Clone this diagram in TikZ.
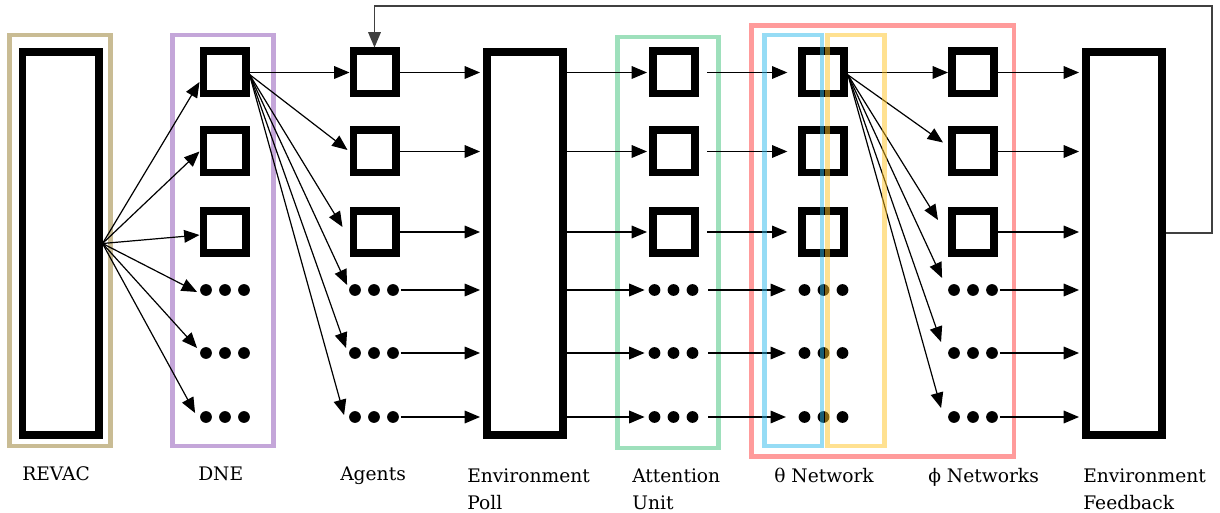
\documentclass[tikz,border=0pt]{standalone}
\usepackage{fontspec}
\setmainfont{DejaVu Serif}
\usetikzlibrary{arrows.meta,calc}
\definecolor{tanc}{RGB}{201,188,148}
\definecolor{purplec}{RGB}{196,166,217}
\definecolor{greenc}{RGB}{158,224,188}
\definecolor{redc}{RGB}{255,155,155}
\definecolor{bluec}{RGB}{45,185,235}
\definecolor{yellowc}{RGB}{255,195,35}
\tikzset{
  sq/.style={draw, line width=5.8pt, minimum size=31.7pt, inner sep=0pt},
  bigr/.style={draw, line width=5.8pt, minimum width=57.2pt, minimum height=287.4pt, inner sep=0pt},
  cbox/.style={draw, line width=3.4pt, inner sep=0pt, minimum width=76.1pt, minimum height=307.9pt},
  dotrow/.style={minimum width=40pt, minimum height=10pt, inner sep=0pt,
    path picture={
      \fill (path picture bounding box.center) circle (4.4pt);
      \fill ([xshift=-14.25pt]path picture bounding box.center) circle (4.4pt);
      \fill ([xshift=14.25pt]path picture bounding box.center) circle (4.4pt);
    }},
  arr/.style={-{Triangle[length=11.5pt,width=9.5pt]}, line width=0.9pt},
  fb/.style={-{Triangle[length=11.5pt,width=9.5pt]}, line width=0.9pt, draw=black!75},
  lbl/.style={anchor=base west, inner sep=0pt, font=\fontsize{14}{20.25}\selectfont, align=left}
}
\begin{document}
\begin{tikzpicture}[x=0.75pt,y=-0.75pt]
\useasboundingbox (0,0) rectangle (1220,513);
% coloured group boxes (behind)
\node[cbox, draw=tanc] (revacbox) at (60,240.5) {};
\node[cbox, draw=purplec] (dnebox) at (223,240.5) {};
\node[cbox, draw=greenc] (attbox) at (668,242.5) {};
\node[cbox, draw=redc, minimum width=196.9pt, minimum height=323.6pt] (redbox) at (882.5,241) {};
% big rectangles
\node[bigr] (revac) at (60.5,243.5) {};
\node[bigr] (ep) at (525,243.5) {};
\node[bigr] (ef) at (1124,243.5) {};
% DNE
\node[sq] (d1) at (224.5,72.5) {};
\node[sq] (d2) at (224.5,151.5) {};
\node[sq] (d3) at (224.5,232) {};
\node[dotrow] (d4) at (225,290) {};
\node[dotrow] (d5) at (225,353) {};
\node[dotrow] (d6) at (225,417) {};
% Agents
\node[sq] (a1) at (374.5,72.5) {};
\node[sq] (a2) at (374.5,151.5) {};
\node[sq] (a3) at (374.5,232) {};
\node[dotrow] (a4) at (374,290) {};
\node[dotrow] (a5) at (374,353) {};
\node[dotrow] (a6) at (374,417) {};
% Attention
\node[sq] (at1) at (674,72.5) {};
\node[sq] (at2) at (674,151.5) {};
\node[sq] (at3) at (674,232) {};
\node[dotrow] (at4) at (673.5,290) {};
\node[dotrow] (at5) at (673.5,353) {};
\node[dotrow] (at6) at (673.5,417) {};
% theta
\node[sq] (t1) at (823,72.5) {};
\node[sq] (t2) at (823,151.5) {};
\node[sq] (t3) at (823,232) {};
\node[dotrow] (t4) at (823.5,290) {};
\node[dotrow] (t5) at (823.5,353) {};
\node[dotrow] (t6) at (823.5,417) {};
% phi
\node[sq] (p1) at (973,72.5) {};
\node[sq] (p2) at (973,151.5) {};
\node[sq] (p3) at (973,232) {};
\node[dotrow] (p4) at (973,290) {};
\node[dotrow] (p5) at (973,353) {};
\node[dotrow] (p6) at (973,417) {};
% REVAC -> DNE
\draw[arr] (revac.east) -- ($(d1.west)+(0,9.5)$);
\draw[arr] (revac.east) -- (d2.west);
\draw[arr] (revac.east) -- ($(d3.west)+(0,3)$);
\draw[arr] (revac.east) -- ($(d4.west)+(-1,2)$);
\draw[arr] (revac.east) -- ($(d5.west)+(-1,-5)$);
\draw[arr] (revac.east) -- ($(d6.west)+(-3,-4)$);
% DNE -> Agents
\draw[arr] (d1.east) -- (a1.west);
\draw[arr] ($(d1.east)+(0,2)$) -- ($(a2.west)+(-2,-1.5)$);
\draw[arr] ($(d1.east)+(0,2)$) -- ($(a3.west)+(-7,-5)$);
\draw[arr] ($(d1.east)+(0,2)$) -- ($(a4.west)+(0,-5)$);
\draw[arr] ($(d1.east)+(0,2)$) -- ($(a5.west)+(-1,-5)$);
\draw[arr] ($(d1.east)+(0,2)$) -- ($(a6.west)+(-3,-2)$);
% Agents -> Environment Poll
\foreach \n in {a1,a2,a3,a4,a5,a6}
  \draw[arr, shorten >=2.25pt] (\n.east) -- (\n.east -| ep.west);
% Environment Poll -> Attention
\foreach \n in {at1,at2,at3,at4,at5,at6}
  \draw[arr, shorten >=1.5pt] (ep.east |- \n.west) -- (\n.west);
% Attention -> theta
\draw[arr, shorten <=6pt, shorten >=8pt] (at1.east) -- (t1.west);
\draw[arr, shorten <=6pt, shorten >=8pt] (at2.east) -- (t2.west);
\draw[arr, shorten <=6pt, shorten >=8pt] (at3.east) -- (t3.west);
\draw[arr, shorten <=6pt, shorten >=8pt] (at4.east) -- (t4.west);
\draw[arr, shorten <=6pt, shorten >=8pt] (at5.east) -- (t5.west);
\draw[arr, shorten <=6pt, shorten >=8pt] (at6.east) -- (t6.west);
% theta -> phi
\draw[arr] (t1.east) -- (p1.west);
\draw[arr] ($(t1.east)+(0,2.5)$) -- ($(p2.west)+(-5,-9)$);
\draw[arr] ($(t1.east)+(0,2.5)$) -- ($(p3.west)+(-10,-12)$);
\draw[arr] ($(t1.east)+(0,2.5)$) -- ($(p4.west)+(-4,-12)$);
\draw[arr] ($(t1.east)+(0,2.5)$) -- ($(p5.west)+(-5,-11)$);
\draw[arr] ($(t1.east)+(0,2.5)$) -- ($(p6.west)+(-5,-9)$);
% phi -> Environment Feedback
\foreach \n in {p1,p2,p3,p4,p5,p6}
  \draw[arr, shorten >=2.25pt] (\n.east) -- (\n.east -| ef.west);
% feedback loop
\coordinate (fbc) at (1212,6);
\draw[fb] ($(ef.east)+(0,-10.5)$) -| (fbc) -| (a1.north);
% translucent theta / phi boxes (on top)
\node[cbox, draw=bluec, draw opacity=0.5, minimum width=43.1pt] (bluebox) at (793.25,240.5) {};
\node[cbox, draw=yellowc, draw opacity=0.5, minimum width=42.75pt] (yellowbox) at (856,240.5) {};
% labels
\node[lbl] (l1) at (22,480) {REVAC};
\node[lbl] (l2) at (198,480) {DNE};
\node[lbl] (l3) at (340,480) {Agents};
\node[lbl] (l4) at (467,509) {Environment\\Poll};
\node[lbl] (l5) at (632,509) {Attention\\Unit};
\node[lbl] (l6) at (774,482) {θ Network};
\node[lbl] (l7) at (928,482) {ϕ Networks};
\node[lbl] (l8) at (1083,509) {Environment\\Feedback};
\end{tikzpicture}
\end{document}
